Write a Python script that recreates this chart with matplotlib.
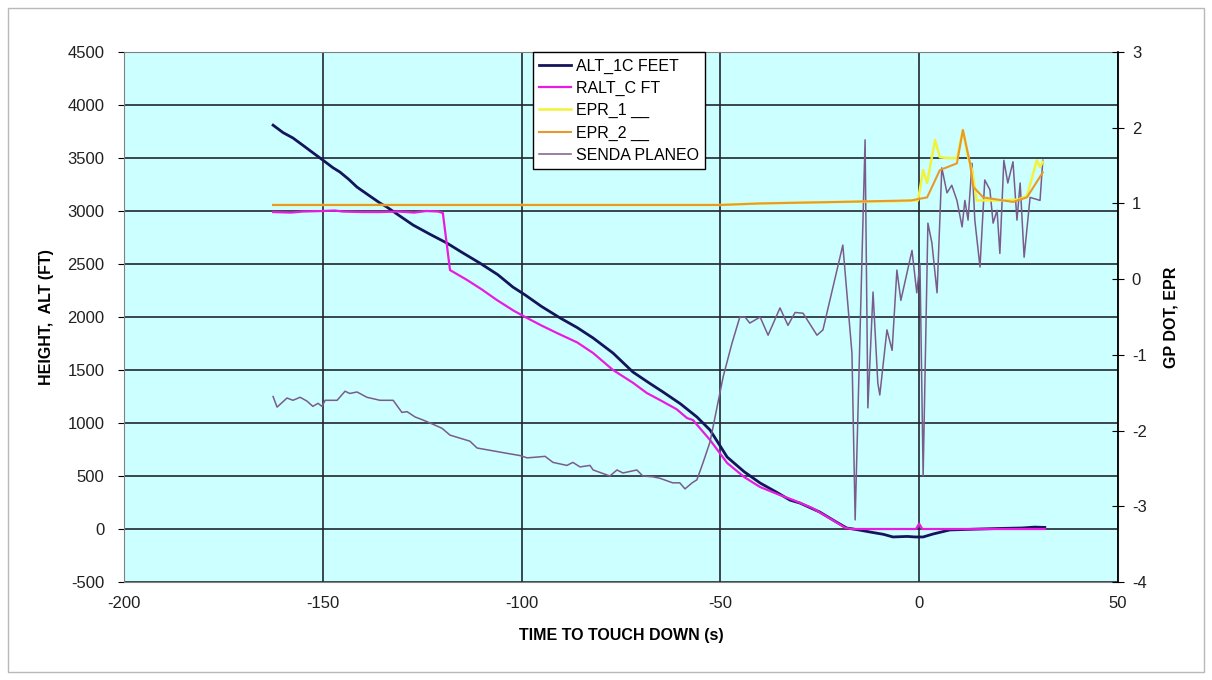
import matplotlib.pyplot as plt
from matplotlib.patches import Rectangle

# ALT_1C FEET (left axis)
alt_t = [-162.5, -160, -157.5, -155, -152.5, -150, -147.5, -145.7, -143.5, -141.4, -138.5, -135.6,
         -133.9, -130.5, -127.3, -123, -118.8, -115, -110.5, -106, -102.2, -99.1, -95, -90.3, -86,
         -82, -77, -72, -68, -64.4, -60, -55.9, -52.6, -50.5, -48.3, -44, -40, -36, -32.5, -30,
         -25, -21, -18.2, -17.4, -15, -12.4, -9, -6.6, -3, -1, 1, 3.5, 7.7, 11, 15.3, 20, 26, 29, 31.6]
alt_ft = [3810, 3740, 3689, 3620, 3550, 3481, 3410, 3368, 3300, 3226, 3150, 3075,
          3038, 2950, 2868, 2780, 2698, 2610, 2509, 2400, 2283, 2208, 2100, 1991, 1900,
          1802, 1660, 1481, 1380, 1292, 1180, 1057, 934, 810, 679, 540, 434, 350, 273, 245,
          160, 70, 9, 5, -10, -28, -50, -75, -70, -75, -75, -47, -9, -5, 0, 5, 10, 18, 15]

# RALT_C FT (left axis)
ralt_t = [-162.5, -158, -155, -150, -147, -145, -140, -135.6, -131, -127, -124, -121, -119.8,
          -118, -113.7, -110, -106.2, -102, -99.1, -95, -91.1, -86, -82, -77, -72, -68.5, -65.2,
          -61, -58.4, -56.9, -52.6, -48.3, -44, -40, -35, -31.7, -27, -22, -18.5, -17, -5, -0.8,
          0, 0.8, 10, 20, 31.6]
ralt_ft = [2990, 2985, 2995, 3000, 3005, 2995, 2990, 2990, 2995, 2985, 3000, 2995, 2981,
           2443, 2349, 2260, 2160, 2060, 2000, 1920, 1849, 1760, 1660, 1500, 1380, 1283, 1217,
           1130, 1047, 1028, 840, 623, 490, 396, 320, 274, 200, 90, 10, 0, 0, 0,
           50, 0, 0, 0, 0]

# EPR_1 (right axis)
epr1_t = [-162.5, -120, -80, -50, -45, -40, -30, -20, -5, -0.3, 1.0, 2.0, 4.0, 5.2, 7, 9.5,
          11.0, 12.3, 13.3, 14.5, 20, 25, 27.1, 29.6, 30.4, 31.1]
epr1 = [0.98, 0.98, 0.98, 0.98, 0.99, 1.00, 1.01, 1.02, 1.03, 1.04, 1.44, 1.27, 1.84, 1.61, 1.60, 1.60,
        1.97, 1.61, 1.44, 1.04, 1.04, 1.05, 1.10, 1.57, 1.48, 1.55]

# EPR_2 (right axis)
epr2_t = [-162.5, -50, -40, -20, -2, 2, 5.2, 9.5, 11.0, 12.8, 13.6, 16.1, 23.6, 27.1, 31.1]
epr2 = [0.98, 0.98, 1.00, 1.02, 1.04, 1.08, 1.44, 1.53, 1.97, 1.53, 1.22, 1.08, 1.02, 1.08, 1.41]

# SENDA PLANEO (right axis, glide path dots)
gp_t = [-162.5, -161.5, -159, -157.5, -155.7, -154, -152.5, -151.2, -150.2, -149.4, -146.4, -144.4,
        -143.2, -141.4, -138.9, -135.6, -132.3, -130.1, -128.8, -126.8, -124.8, -123, -120, -118,
        -115.5, -113, -111.2, -108, -103.7, -100.4, -98.6, -96.1, -94.1, -92.1, -88.6, -87.1, -85.3,
        -82.8, -82, -77.8, -76, -74.5, -71, -69.5, -67, -65.2, -62, -60.2, -58.9, -57.1, -55.9,
        -54.4, -52.6, -49.3, -47.1, -45.1, -43.8, -42.6, -40, -38, -35, -33, -31.2, -29.2, -25.7,
        -24.2, -19.2, -16.9, -16.1, -13.6, -12.9, -11.6, -10.4, -9.9, -8.1, -6.8, -5.6, -4.6, -1.8,
        -0.6, 0.2, 1.0, 2.2, 3.2, 4.5, 5.7, 7.0, 8.2, 9.5, 10.8, 11.5, 12.3, 13.3, 14.0, 15.3, 16.5,
        17.8, 18.6, 19.6, 20.3, 21.3, 22.3, 23.6, 24.6, 25.4, 26.4, 27.9, 30.4, 31.1]
gp_dot = [-1.55, -1.69, -1.57, -1.60, -1.56, -1.61, -1.68, -1.64, -1.68, -1.60, -1.60, -1.48,
          -1.51, -1.49, -1.56, -1.60, -1.60, -1.76, -1.75, -1.82, -1.86, -1.90, -1.97, -2.06,
          -2.10, -2.14, -2.23, -2.26, -2.30, -2.33, -2.36, -2.35, -2.34, -2.42, -2.46, -2.42, -2.48,
          -2.46, -2.52, -2.60, -2.52, -2.56, -2.52, -2.60, -2.61, -2.63, -2.69, -2.69, -2.77, -2.69, -2.65,
          -2.43, -2.15, -1.29, -0.85, -0.50, -0.50, -0.58, -0.50, -0.74, -0.38, -0.61, -0.44, -0.45, -0.74,
          -0.67, 0.45, -0.98, -3.18, 1.84, -1.70, -0.17, -1.37, -1.53, -0.67, -0.94, 0.12, -0.28, 0.38,
          -0.18, 0.21, -2.6, 0.74, 0.48, -0.18, 1.47, 1.14, 1.24, 1.04, 0.69, 1.04, 0.78, 1.53, 0.78, 0.16, 1.31,
          1.18, 0.74, 0.91, 0.34, 1.57, 1.27, 1.55, 0.78, 1.27, 0.29, 1.08, 1.04, 1.57]

plt.rcParams['font.family'] = 'Liberation Sans'
plt.rcParams['font.size'] = 12
plt.rcParams['axes.unicode_minus'] = False

fig = plt.figure(figsize=(12.12, 6.8), dpi=100)
fig.patches.append(Rectangle((0.007, 0.012), 0.986, 0.976, transform=fig.transFigure,
                             fill=False, edgecolor='#b8b8b8', linewidth=1))
ax = fig.add_axes([0.1023, 0.1441, 0.8201, 0.7794])
ax.set_facecolor('#ccffff')
ax.set_xlim(-200, 50)
ax.set_ylim(-500, 4500)
ax.set_xticks(range(-200, 51, 50))
ax.set_yticks(range(-500, 4501, 500))
ax.grid(True, color='#202830', linewidth=1.2)
ax.set_axisbelow(True)
for s in ax.spines.values():
	s.set_color('#808080')
ax.tick_params(axis='y', direction='out', length=4, color='black', pad=10, labelcolor='#202020')
ax.tick_params(axis='x', length=0, pad=10, labelcolor='#202020')

l1, = ax.plot(alt_t, alt_ft, color='#14145a', linewidth=2.0, label='ALT_1C FEET')
l2, = ax.plot(ralt_t, ralt_ft, color='#e81ce0', linewidth=1.6, label='RALT_C FT')

ax2 = ax.twinx()
ax2.set_ylim(-4, 3)
ax2.set_yticks(range(-4, 4))
ax2.spines['right'].set_color('black')
ax2.spines['right'].set_linewidth(1.2)
for side in ('left', 'top', 'bottom'):
	ax2.spines[side].set_visible(False)
ax2.tick_params(axis='y', direction='inout', length=8, pad=6, labelcolor='#202020')

l5, = ax2.plot(gp_t, gp_dot, color='#7a5c8c', linewidth=1.1, label='SENDA PLANEO')
l3, = ax2.plot(epr1_t, epr1, color='#f2f23a', linewidth=1.8, label='EPR_1 __')
l4, = ax2.plot(epr2_t, epr2, color='#e89a28', linewidth=1.5, label='EPR_2 __')

ax.set_xlabel('TIME TO TOUCH DOWN (s)', fontweight='bold', fontsize=11.5, labelpad=12)
ax.set_ylabel('HEIGHT,  ALT (FT)', fontweight='bold', fontsize=11.5, labelpad=10)
ax2.set_ylabel('GP DOT, EPR', fontweight='bold', fontsize=11.5, labelpad=12)

leg = ax2.legend(handles=[l1, l2, l3, l4, l5], loc='upper left', bbox_to_anchor=(0.411, 1.0),
                 borderaxespad=0, fancybox=False, framealpha=1, edgecolor='black',
                 fontsize=11.5, handlelength=2.0, handletextpad=0.3, labelspacing=0.45)
leg.get_frame().set_linewidth(1.0)

plt.savefig('out.png', dpi=100)
